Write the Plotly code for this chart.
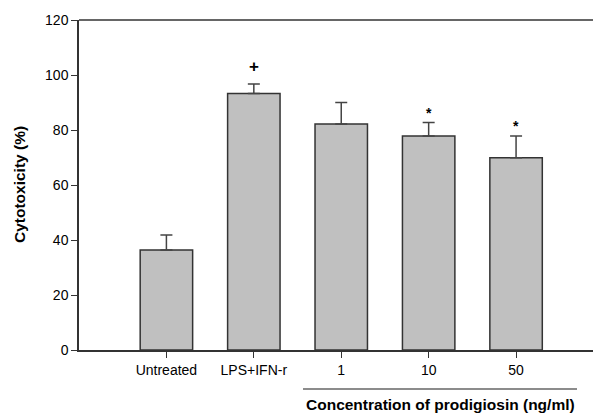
import plotly.graph_objects as go

categories = ["Untreated", "LPS+IFN-r", "1", "10", "50"]
values = [36.4, 93.3, 82.2, 77.8, 69.9]
errors = [5.4, 3.4, 7.8, 4.9, 7.9]
marks = ["", "+", "", "*", "*"]
y_ticks = [0, 20, 40, 60, 80, 100, 120]

FONT = "Liberation Sans, Arial, sans-serif"
PW, PH = 514, 330  # plot area size in px

fig = go.Figure()
fig.add_trace(go.Bar(
    x=list(range(len(categories))),
    y=values,
    width=0.6,
    marker=dict(color="#c0c0c0", line=dict(color="#333333", width=1.5)),
    error_y=dict(type="data", array=errors, symmetric=False, arrayminus=[0]*5,
                 color="#444444", thickness=1.5, width=6),
))

for i, (m, v, e) in enumerate(zip(marks, values, errors)):
    if m:
        fig.add_annotation(x=i, y=v + e, text=f"<b>{m}</b>", showarrow=False,
                           yanchor="bottom", yshift=0 if m == "*" else 6,
                           font=dict(family=FONT, size=17 if m == "+" else 14, color="black"))

fig.add_shape(type="line", xref="paper", yref="paper",
              x0=(303 - 79) / PW, x1=(577 - 79) / PW, y0=-39 / PH, y1=-39 / PH,
              line=dict(color="#666666", width=1.5))
fig.add_annotation(xref="paper", yref="paper", x=(440 - 79) / PW, y=-54 / PH,
                   text="<b>Concentration of prodigiosin (ng/ml)</b>", showarrow=False,
                   yanchor="middle", xanchor="center",
                   font=dict(family=FONT, size=15.5, color="black"))
fig.add_annotation(xref="paper", yref="paper", x=(19 - 79) / PW, y=0.5,
                   text="<b>Cytotoxicity (%)</b>", showarrow=False, textangle=-90,
                   yanchor="middle", xanchor="center",
                   font=dict(family=FONT, size=15.5, color="black"))

fig.update_layout(
    width=595, height=415,
    margin=dict(l=79, r=2, t=20, b=65),
    plot_bgcolor="white", paper_bgcolor="white",
    showlegend=False,
    font=dict(family=FONT, size=14, color="black"),
    xaxis=dict(range=[-1.0, 4.88], tickvals=list(range(len(categories))),
               ticktext=categories, showgrid=False, zeroline=False,
               showline=True, linecolor="#333333", linewidth=1.5,
               ticks="outside", ticklen=6, tickcolor="#333333", mirror=False),
    yaxis=dict(range=[0, 120], tickvals=y_ticks, showgrid=False, zeroline=False,
               showline=True, linecolor="#333333", linewidth=1.5,
               ticks="outside", ticklen=6, tickcolor="#333333"),
)
fig.add_shape(type="line", xref="paper", yref="paper", x0=0, x1=1, y0=1, y1=1,
              line=dict(color="#333333", width=1.5))

fig.write_html("out.html", config={"displayModeBar": False},
               post_script="document.body.style.margin='0';")
